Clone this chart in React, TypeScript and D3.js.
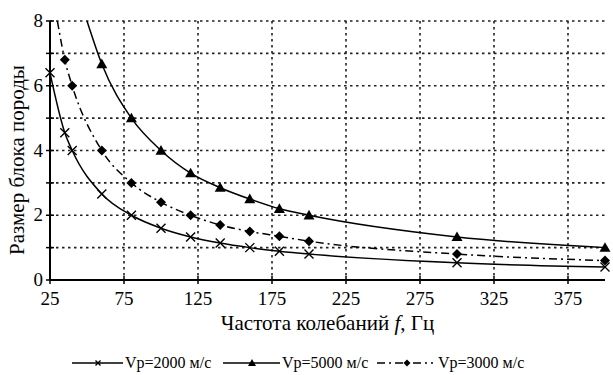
import React from "react";
import * as d3 from "d3";

const xTicks = [25, 75, 125, 175, 225, 275, 325, 375];
const yTicks = [0, 1, 2, 3, 4, 5, 6, 7, 8];
const yLabels = [0, 2, 4, 6, 8];

const f2000 = [25, 35, 40, 60, 80, 100, 120, 140, 160, 180, 200, 300, 400];
const v2000 = [6.4, 4.55, 4.0, 2.66, 2.0, 1.6, 1.33, 1.14, 1.0, 0.89, 0.8, 0.53, 0.4];
const m2000 = [1, 1, 1, 1, 1, 1, 1, 1, 1, 1, 1, 1, 1];

const f5000 = [50, 60, 80, 100, 120, 140, 160, 180, 200, 300, 400];
const v5000 = [8.0, 6.67, 5.0, 4.0, 3.3, 2.85, 2.5, 2.2, 2.0, 1.33, 1.0];
const m5000 = [0, 1, 1, 1, 1, 1, 1, 1, 1, 1, 1];

const f3000 = [30, 35, 40, 60, 80, 100, 120, 140, 160, 180, 200, 300, 400];
const v3000 = [8.0, 6.8, 6.0, 4.0, 3.0, 2.4, 2.0, 1.7, 1.5, 1.35, 1.2, 0.8, 0.6];
const m3000 = [0, 1, 1, 1, 1, 1, 1, 1, 1, 1, 1, 1, 1];

const seriesNames = ["Vp=2000 м/с", "Vp=5000 м/с", "Vp=3000 м/с"];

const FONT = "'Liberation Serif', serif";

const W = 613, H = 375;
const L = 50, R = 605, T = 21, B = 280;

const x = d3.scaleLinear().domain([25, 400]).range([L, R]);
const y = d3.scaleLinear().domain([0, 8]).range([B, T]);

type Pt = { f: number; v: number; m: number };
const mk = (fs: number[], vs: number[], ms: number[]): Pt[] =>
  fs.map((f, i) => ({ f, v: vs[i], m: ms[i] }));

const s2000 = mk(f2000, v2000, m2000);
const s5000 = mk(f5000, v5000, m5000);
const s3000 = mk(f3000, v3000, m3000);

const line = d3
  .line<Pt>()
  .x((d) => x(d.f))
  .y((d) => y(d.v))
  .curve(d3.curveMonotoneX);

function Cross({ cx, cy, s = 4.5 }: { cx: number; cy: number; s?: number }) {
  return (
    <path
      d={`M${cx - s},${cy - s}L${cx + s},${cy + s}M${cx - s},${cy + s}L${cx + s},${cy - s}`}
      stroke="#000"
      strokeWidth={1.4}
    />
  );
}
function Tri({ cx, cy, s = 5.5 }: { cx: number; cy: number; s?: number }) {
  return (
    <path
      d={`M${cx},${cy - s}L${cx + s},${cy + s * 0.75}L${cx - s},${cy + s * 0.75}Z`}
      fill="#000"
    />
  );
}
function Dia({ cx, cy, s = 5 }: { cx: number; cy: number; s?: number }) {
  return (
    <path d={`M${cx},${cy - s}L${cx + s},${cy}L${cx},${cy + s}L${cx - s},${cy}Z`} fill="#000" />
  );
}

export default function App() {
  const legY = 363;
  return (
    <svg
      width={W}
      height={H}
      style={{ position: "absolute", left: 0, top: 0, background: "#fff", fontFamily: FONT }}
    >
      <rect width={W} height={H} fill="#fff" />
      {/* grid */}
      {yTicks
        .filter((t) => t > 0)
        .map((t) => (
          <line
            key={"gy" + t}
            x1={L}
            x2={R}
            y1={y(t)}
            y2={y(t)}
            stroke="#222"
            strokeWidth={1.6}
            strokeDasharray="2.5,3.5"
          />
        ))}
      {xTicks
        .filter((t) => t > 25)
        .map((t) => (
          <line
            key={"gx" + t}
            x1={x(t)}
            x2={x(t)}
            y1={T}
            y2={B}
            stroke="#222"
            strokeWidth={1.6}
            strokeDasharray="2.5,3.5"
          />
        ))}
      {/* axes */}
      <line x1={L} x2={L} y1={T} y2={B} stroke="#000" strokeWidth={2} />
      <line x1={L} x2={R} y1={B} y2={B} stroke="#000" strokeWidth={2} />
      {yTicks.map((t) => (
        <line key={"ty" + t} x1={L - 4} x2={L + 4} y1={y(t)} y2={y(t)} stroke="#000" strokeWidth={1.5} />
      ))}
      {xTicks.map((t) => (
        <line key={"tx" + t} x1={x(t)} x2={x(t)} y1={B - 4} y2={B + 4} stroke="#000" strokeWidth={1.5} />
      ))}
      {yLabels.map((t) => (
        <text key={"ly" + t} x={L - 7} y={y(t) + 6} textAnchor="end" fontSize={19}>
          {t}
        </text>
      ))}
      {xTicks.map((t) => (
        <text key={"lx" + t} x={x(t)} y={305} textAnchor="middle" fontSize={19}>
          {t}
        </text>
      ))}
      <text x={(L + R) / 2} y={330} textAnchor="middle" fontSize={21}>
        Частота колебаний <tspan fontStyle="italic">f</tspan>, Гц
      </text>
      <text
        transform={`translate(24,${160}) rotate(-90)`}
        textAnchor="middle"
        fontSize={21}
      >
        Размер блока породы
      </text>
      {/* series */}
      <path d={line(s2000) || ""} fill="none" stroke="#000" strokeWidth={1.5} />
      <path d={line(s5000) || ""} fill="none" stroke="#000" strokeWidth={1.5} />
      <path
        d={line(s3000) || ""}
        fill="none"
        stroke="#000"
        strokeWidth={1.5}
        strokeDasharray="8,4,2,4"
      />
      {s2000.filter((d) => d.m).map((d, i) => (
        <Cross key={"c" + i} cx={x(d.f)} cy={y(d.v)} />
      ))}
      {s5000.filter((d) => d.m).map((d, i) => (
        <Tri key={"t" + i} cx={x(d.f)} cy={y(d.v)} />
      ))}
      {s3000.filter((d) => d.m).map((d, i) => (
        <Dia key={"d" + i} cx={x(d.f)} cy={y(d.v)} />
      ))}
      {/* legend */}
      <g fontSize={16}>
        <line x1={72} x2={123} y1={legY} y2={legY} stroke="#000" strokeWidth={1.5} />
        <Cross cx={98} cy={legY} s={2.5} />
        <text x={125} y={legY + 5}>{seriesNames[0]}</text>
        <line x1={223} x2={280} y1={legY} y2={legY} stroke="#000" strokeWidth={1.5} />
        <Tri cx={252} cy={legY} s={4} />
        <text x={282} y={legY + 5}>{seriesNames[1]}</text>
        <line
          x1={377}
          x2={433}
          y1={legY}
          y2={legY}
          stroke="#000"
          strokeWidth={1.5}
          strokeDasharray="8,4,2,4"
        />
        <Dia cx={407} cy={legY} s={3.5} />
        <text x={438} y={legY + 5}>{seriesNames[2]}</text>
      </g>
    </svg>
  );
}
